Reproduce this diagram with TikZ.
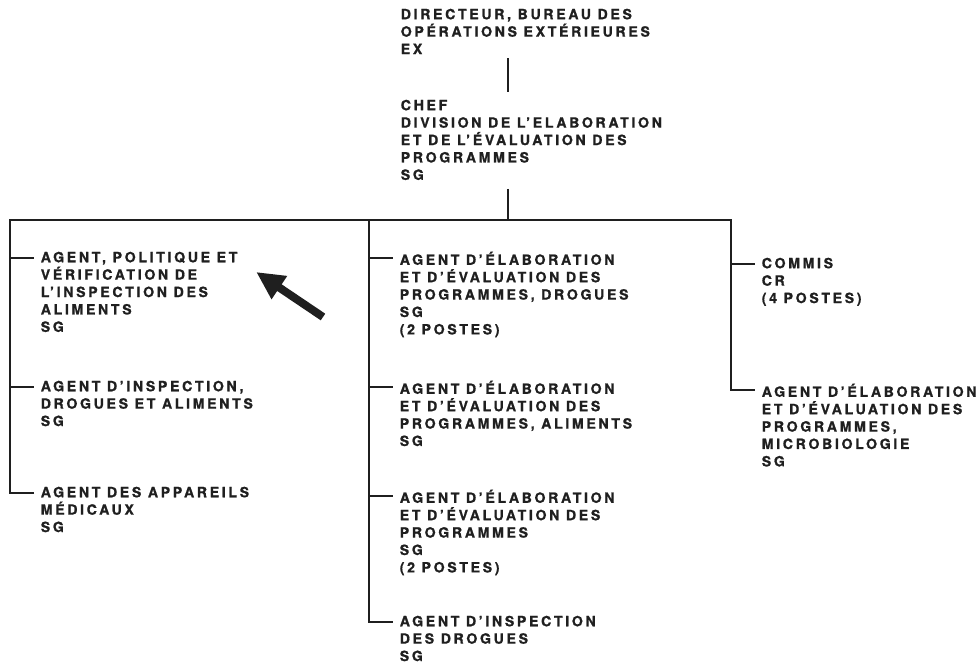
\documentclass[tikz,border=0pt]{standalone}
\usepackage{fontspec}
\setmainfont{TeX Gyre Heros}[LetterSpace=19,BoldFeatures={FakeBold=1}]
\usepackage{tikz}
\usetikzlibrary{arrows.meta}
\def\colgap{6pt}

\begin{document}
\begin{tikzpicture}[x=1pt,y=-1pt,line width=1.6pt,black!88]
    \tikzstyle{poste}=[anchor=north west,align=left,inner sep=0pt,font=\fontsize{14.1}{17.4}\selectfont\bfseries,
        execute at begin node={\rule{0pt}{14pt}}]
    \tikzstyle{fleche}=[line width=8pt,-{Triangle[length=28pt,width=26pt]}]

    \useasboundingbox (0,0) rectangle (980,666);

    % Director and chief
    \node[poste] (dir) at (400,8) {DIRECTEUR, BUREAU DES\\OPÉRATIONS EXTÉRIEURES\\EX};
    \node[poste] (chef) at (400,99) {CHEF\\DIVISION DE L’ELABORATION\\ET DE L’ÉVALUATION DES\\PROGRAMMES\\SG};

    % Left column
    \node[poste] (L-1) at (40,251) {AGENT, POLITIQUE ET\\VÉRIFICATION DE\\L’INSPECTION DES\\ALIMENTS\\SG};
    \node[poste] (L-2) at (40,380) {AGENT D’INSPECTION,\\DROGUES ET ALIMENTS\\SG};
    \node[poste] (L-3) at (40,486) {AGENT DES APPAREILS\\MÉDICAUX\\SG};

    % Middle column
    \node[poste] (M-1) at (399,251) {AGENT D’ÉLABORATION\\ET D’ÉVALUATION DES\\PROGRAMMES, DROGUES\\SG\\(2 POSTES)};
    \node[poste] (M-2) at (399,380) {AGENT D’ÉLABORATION\\ET D’ÉVALUATION DES\\PROGRAMMES, ALIMENTS\\SG};
    \node[poste] (M-3) at (399,489) {AGENT D’ÉLABORATION\\ET D’ÉVALUATION DES\\PROGRAMMES\\SG\\(2 POSTES)};
    \node[poste] (M-4) at (399,615) {AGENT D’INSPECTION\\DES DROGUES\\SG};

    % Right column
    \node[poste] (R-1) at (761,257) {COMMIS\\CR\\(4 POSTES)};
    \node[poste] (R-2) at (761,383) {AGENT D’ÉLABORATION\\ET D’ÉVALUATION DES\\PROGRAMMES,\\MICROBIOLOGIE\\SG};

    % Connect the chief to the director
    \coordinate (axe) at (508,220);
    \draw ([yshift=-3.5pt]dir.south -| axe) -- ([yshift=7pt]chef.north -| axe);
    \draw ([yshift=-8pt]chef.south -| axe) -- (axe);

    % Horizontal bar and the three columns
    \coordinate (bar-L) at (10,220);
    \coordinate (bar-M) at (369,220);
    \coordinate (bar-R) at (731,220);
    \foreach \col/\n in {L/3,M/4,R/2} {
        \foreach \i in {1,...,\n}
            \coordinate (T\col-\i) at ([xshift=-\colgap,yshift=-7pt]\col-\i.north west);
    }
    \draw (TL-3) -| (bar-L) -- (bar-R) |- (TR-2);
    \draw (bar-M) |- (TM-4);
    \foreach \col/\n in {L/2,M/3,R/1}
        \foreach \i in {1,...,\n}
            \draw (bar-\col |- T\col-\i) -- (T\col-\i);

    % Pointer
    \coordinate (queue) at (323,317);
    \draw[fleche] (queue) -- ([xshift=18pt,yshift=-21pt]L-1.north east);

\end{tikzpicture}
\end{document}
